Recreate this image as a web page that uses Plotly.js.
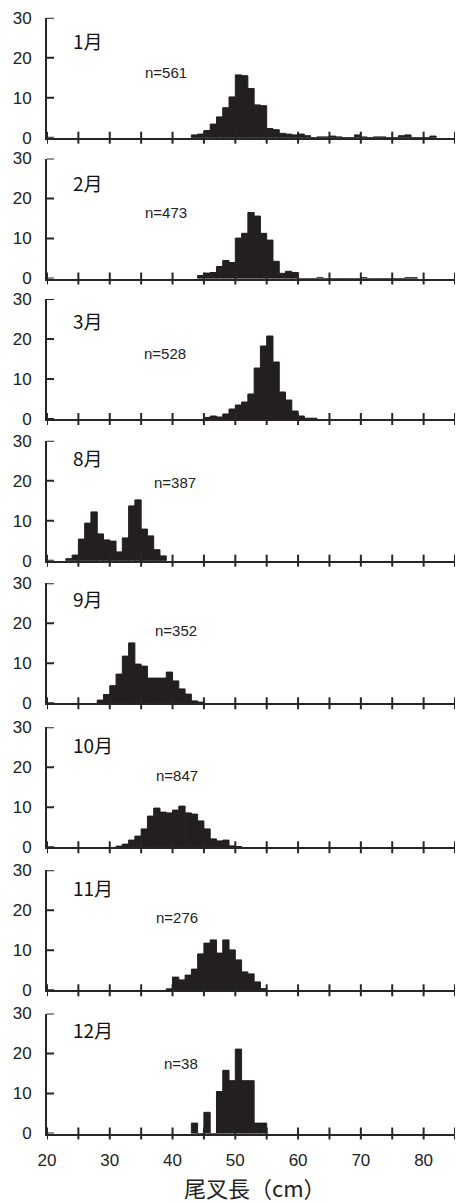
<!DOCTYPE html>
<html><head><meta charset="utf-8">
<script src="https://cdn.plot.ly/plotly-3.0.1.min.js"></script>
<style>html,body{margin:0;padding:0;background:#fff}</style>
</head><body><div id="chart" style="width:459px;height:1202px"></div>
<script>
// ---- data (percent frequency per 1-cm fork-length class; class lower edge) ----
const months = ['1月','2月','3月','8月','9月','10月','11月','12月'];
const sampleSizes = ['n=561','n=473','n=528','n=387','n=352','n=847','n=276','n=38'];
const firstClass = [43, 44, 45, 23, 28, 31, 39, 43];
const janPct = [0.7,0.9,1.8,3.4,5.2,7.5,10.2,15.7,15.5,12.3,8.2,8.0,2.3,2.0,1.1,0.9,0.7,0.9,0.5,0,0.2,0.2,0.4,0.2,0,0,0.7,0.2,0,0.2,0.2,0,0,0.5,0.7,0,0,0,0.4];
const febPct = [0.75,1.35,1.5,3.0,4.5,4.0,10.1,11.3,16.5,15.6,11.3,9.6,4.3,1.3,1.8,1.5,0,0,0,0.2,0,0,0,0,0,0,0.2,0,0,0,0,0,0,0.2,0.2];
const marPct = [0.4,0.75,0.5,1.25,2.5,3.5,4.25,6.25,12.75,18.25,20.75,14.25,6.75,4.75,2.0,0.75,0.2,0.2];
const augPct = [0.5,1.4,5.4,9.4,12.2,6.7,5.2,4.9,2.2,5.7,13.7,15.2,7.9,6.2,2.75,1.2];
const sepPct = [0.8,2.2,4.4,7.3,11.8,15.1,9.8,9.3,6.3,6.3,6.3,7.8,5.6,3.6,2.3,0.6,0.3];
const octPct = [0.3,0.8,1.8,2.8,4.6,7.8,9.8,8.8,8.6,9.3,10.3,8.6,8.3,6.6,4.6,2.1,1.6,1.8,0.35,0.2];
const novPct = [0.36,3.3,2.6,3.8,5.3,9.1,11.8,12.6,9.3,12.6,10.1,7.6,4.6,4.1,2.1,0.4];
const decPct = [2.6,0,5.3,0,10.5,15.8,13.2,21.1,13.2,13.2,2.6,2.6];
const xTickVals = [20,25,30,35,40,45,50,55,60,65,70,75,80,85];
const xTickText = ['20','','30','','40','','50','','60','','70','','80',''];
const yTickVals = [0,10,20,30];
const xTitle = '尾叉長（cm）';

const series = [janPct, febPct, marPct, augPct, sepPct, octPct, novPct, decPct];

// ---- layout geometry ----
const W = 459, H = 1202;
const xDom = [47/W, 455/W];
const plotW = 408;
const zeroPx = [137.7, 278.5, 419, 560.7, 703.3, 847.3, 990.3, 1133.5];
const panelH = 120;
const tickPx = 6;
const monthY = [0.81, 0.80, 0.82, 0.86, 0.87, 0.86, 0.86, 0.87];
const nPos = [[0.236,0.547],[0.236,0.546],[0.233,0.55],[0.257,0.648],[0.26,0.61],[0.262,0.60],[0.262,0.61],[0.282,0.58]];
const ink = '#231f20';
const lineC = '#262626';
const numFont = 'Liberation Sans, Arial, sans-serif';
const cjkFont = 'Noto Sans CJK JP, sans-serif';

const traces = [];
const layout = {
  width: W, height: H, autosize: false,
  margin: {l:0, r:0, t:0, b:0},
  paper_bgcolor: '#fff', plot_bgcolor: '#fff',
  showlegend: false, hovermode: false,
  annotations: [], shapes: []
};

series.forEach((vals, i) => {
  const k = i + 1;
  const xs = vals.map((v, j) => firstClass[i] + j);
  const xn = k === 1 ? 'x' : 'x' + k;
  const yn = k === 1 ? 'y' : 'y' + k;
  traces.push({
    type: 'bar', x: xs, y: vals, xaxis: xn, yaxis: yn,
    offset: 0, width: 1,
    marker: {color: ink, line: {width: 1, color: ink}},
    hoverinfo: 'skip'
  });
  const yDom = [(H - zeroPx[i]) / H, (H - zeroPx[i] + panelH) / H];
  const isBottom = k === 8;
  layout['xaxis' + (k === 1 ? '' : k)] = {
    domain: xDom, anchor: yn, range: [20, 85], fixedrange: true,
    tickmode: 'array', tickvals: xTickVals, ticktext: xTickText,
    showticklabels: isBottom, ticks: '',
    showline: true, linecolor: lineC, linewidth: 2,
    showgrid: false, zeroline: false,
    ticklabelstandoff: 10,
    tickfont: {family: numFont, size: 17, color: '#222'}
  };
  layout['yaxis' + (k === 1 ? '' : k)] = {
    domain: yDom, anchor: xn, range: [0, 30], fixedrange: true,
    tickmode: 'array', tickvals: yTickVals, ticks: '',
    showline: true, linecolor: lineC, linewidth: 2,
    showgrid: false, zeroline: false,
    ticklabelstandoff: 10,
    tickfont: {family: numFont, size: 17, color: '#222'}
  };
  const dRef = (k === 1 ? 'x' : 'x' + k) + ' domain';
  const dRefY = (k === 1 ? 'y' : 'y' + k) + ' domain';
  // crossing tick marks on the x axis
  xTickVals.forEach(v => {
    layout.shapes.push({
      type: 'line', layer: 'above', xref: xn, yref: dRefY,
      x0: v, x1: v, y0: -tickPx / panelH, y1: tickPx / panelH,
      line: {color: lineC, width: 2}
    });
  });
  // inward tick marks on the y axis
  yTickVals.forEach(v => {
    layout.shapes.push({
      type: 'line', layer: 'above', xref: dRef, yref: yn,
      x0: 0, x1: (tickPx + 1) / plotW, y0: v, y1: v,
      line: {color: lineC, width: 2}
    });
  });
  layout.annotations.push({
    text: months[i], xref: dRef, yref: dRefY, x: 0.058, y: monthY[i],
    xanchor: 'left', yanchor: 'middle', showarrow: false,
    font: {family: cjkFont, size: 19, color: '#111'}
  });
  layout.annotations.push({
    text: sampleSizes[i], xref: dRef, yref: dRefY, x: nPos[i][0], y: nPos[i][1],
    xanchor: 'left', yanchor: 'middle', showarrow: false,
    font: {family: numFont, size: 15, color: '#222'}
  });
});

layout.annotations.push({
  text: xTitle, xref: 'paper', yref: 'paper', x: 255 / W, y: (H - 1187) / H,
  xanchor: 'center', yanchor: 'middle', showarrow: false,
  font: {family: cjkFont, size: 22, color: '#222'}
});

Plotly.newPlot('chart', traces, layout, {displayModeBar: false, staticPlot: true});
</script>
</body></html>
